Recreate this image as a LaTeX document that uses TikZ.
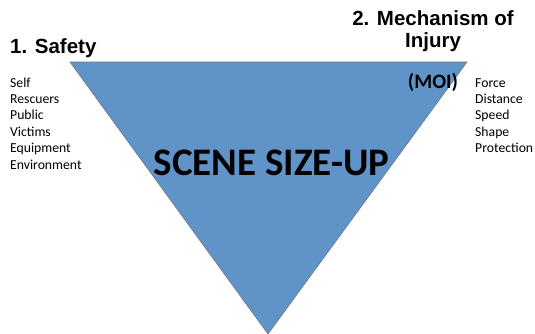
\documentclass[tikz,border=0pt]{standalone}
\usepackage{fontspec}
\setmainfont{Liberation Sans}
\newfontfamily\calib{Carlito}
\definecolor{tribl}{RGB}{96,148,200}
\definecolor{triedge}{RGB}{110,120,130}
\tikzset{
  heading/.style={font=\fontsize{20.5}{22}\selectfont\bfseries, inner sep=0pt},
  listtext/.style={font=\calib\fontsize{13.7}{16.5}\selectfont, inner sep=0pt, anchor=base west},
}
\begin{document}
\begin{tikzpicture}[x=1pt,y=-1pt]
  \useasboundingbox (0,0) rectangle (535,333);
  % inverted triangle
  \coordinate (tl) at (70,62);
  \coordinate (tr) at (467,62);
  \coordinate (bt) at (268,334);
  \fill[tribl] (tl) -- (tr) -- (bt) -- cycle;
  \draw[triedge, line width=0.6pt, line join=miter] (tl) -- (tr) -- (bt) -- cycle;
  % title inside
  \node[font=\calib\fontsize{39}{44}\selectfont\bfseries, inner sep=0pt, anchor=base] (scene) at (271.5,175) {SCENE SIZE-UP};
  % headings
  \node[heading, anchor=base west] (safety) at (10,53) {1. Safety};
  \node[heading, anchor=base] (moi1) at (433,25) {2. Mechanism of};
  \node[heading, anchor=base] (moi2) at (433,47) {Injury};
  \node[font=\calib\fontsize{20.5}{22}\selectfont\bfseries, inner sep=0pt, anchor=base] (moi3) at (433,88) {(MOI)};
  % safety list
  \foreach \t [count=\i] in {Self,Rescuers,Public,Victims,Equipment,Environment}
    \node[listtext] (left\i) at (10,{87+16.4*(\i-1)}) {\t};
  % mechanism list
  \foreach \t [count=\i] in {Force,Distance,Speed,Shape,Protection}
    \node[listtext] (right\i) at (475,{87+16.4*(\i-1)}) {\t};
\end{tikzpicture}
\end{document}
